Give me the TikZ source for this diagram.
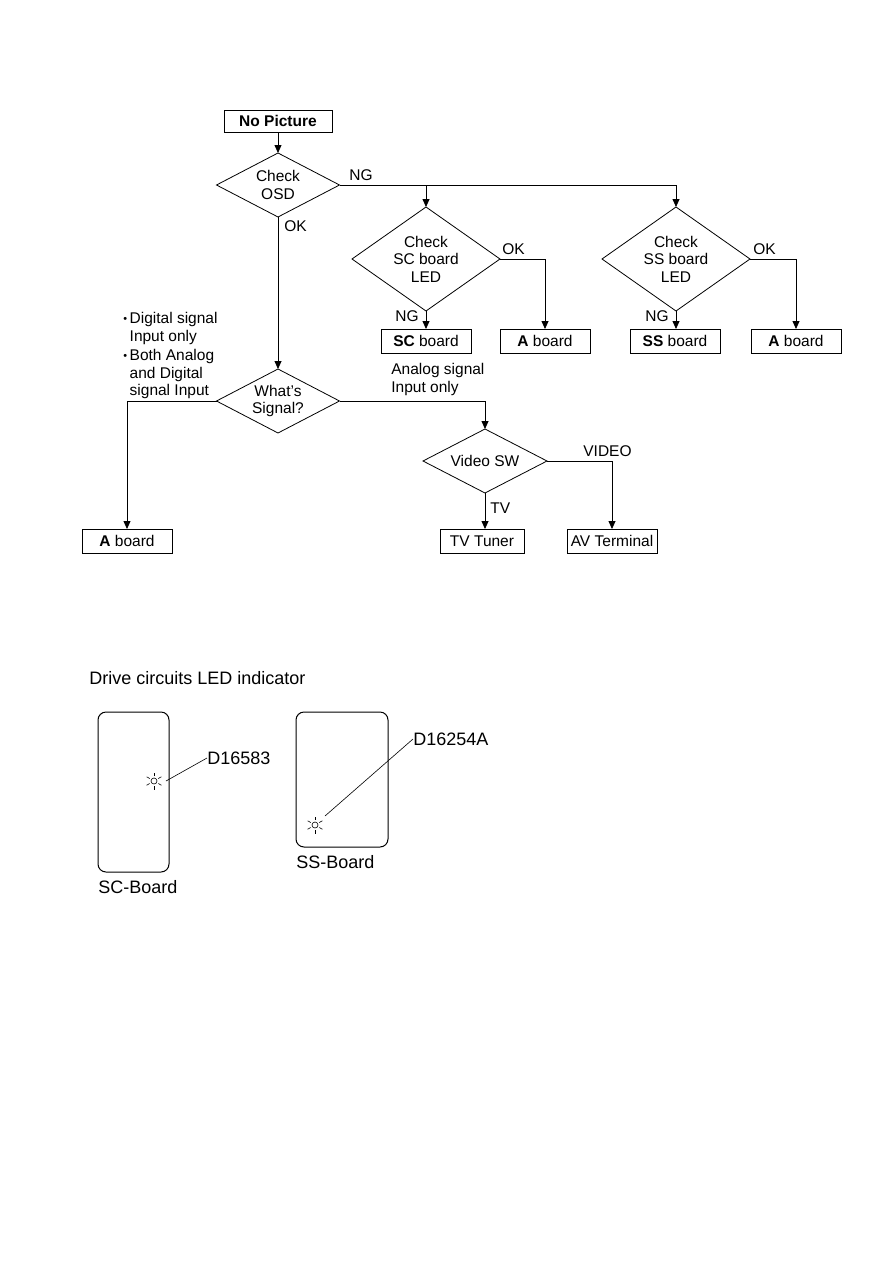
\documentclass[tikz,border=0pt]{standalone}
\usepackage{fontspec}
\setmainfont{Liberation Sans}
\usetikzlibrary{positioning, arrows.meta, shapes.geometric, calc}

\newcommand{\flowfont}{\fontsize{15.5}{17.5}\selectfont}
\newcommand{\ledfont}{\fontsize{18}{21}\selectfont}

\begin{document}
\begin{tikzpicture}[
        x=1pt, y=-1pt,
        line width=0.8pt,
        box/.style   = {draw, rectangle, minimum width=90pt, minimum height=24pt, inner sep=1pt, outer sep=0pt, font=\flowfont},
        dec/.style   = {draw, diamond, aspect=1.9, inner sep=0pt, outer sep=0pt, minimum width=123pt, minimum height=64pt, align=center, font=\flowfont},
        lbl/.style   = {inner sep=0pt, font=\flowfont, align=left},
        arrow/.style = {-{Triangle[length=8pt, width=7pt]}},
        board/.style = {draw, rectangle, rounded corners=8pt, line width=1pt},
        led/.style   = {draw, circle, minimum size=6pt, inner sep=0pt, line width=0.6pt},
    ]
        \useasboundingbox (0,0) rectangle (893,1263);

        %---- top of chart ----
        \node[box, minimum width=108pt, minimum height=22pt, font=\flowfont\bfseries] (start) at (278,121) {No Picture};
        \node[dec] (osd) at (278,185) {Check\\OSD};
        \node[dec, aspect=1.42, minimum width=148pt, minimum height=104pt] (sc) at (426,259) {Check\\SC board\\LED};
        \node[dec, aspect=1.42, minimum width=148pt, minimum height=104pt] (ss) at (676,259) {Check\\SS board\\LED};
        \node[box] (scb) at (426,341) {\textbf{SC} board};
        \node[box] (sca) at (545,341) {\textbf{A} board};
        \node[box] (ssb) at (675,341) {\textbf{SS} board};
        \node[box] (ssa) at (796,341) {\textbf{A} board};
        \draw[arrow] (start) -- (osd);
        \draw[arrow] (osd.east) -| (ss.north);
        \draw[arrow] (osd.east -| sc.north) -- (sc.north);
        \draw[arrow] (sc.south) -- (sc.south |- scb.north);
        \draw[arrow] (sc.east) -| (sca.north);
        \draw[arrow] (ss.south) -- (ss.south |- ssb.north);
        \draw[arrow] (ss.east) -| (ssa.north);
        \node[lbl, anchor=west] (ngosd) at (349,175) {NG};
        \node[lbl, anchor=west] (okosd) at (284,226) {OK};
        \node[lbl, anchor=west] (oksc) at (502,249) {OK};
        \node[lbl, anchor=west] (ngsc) at (395,316) {NG};
        \node[lbl, anchor=west] (okss) at (753,249) {OK};
        \node[lbl, anchor=west] (ngss) at (645,316) {NG};

        %---- signal branch ----
        \node[dec] (sig) at (278,401) {What's\\Signal?};
        \node[box] (aboard) at (127,541) {\textbf{A} board};
        \node[dec, aspect=1.94, minimum width=124pt] (vsw) at (485,461) {Video SW};
        \node[box, minimum width=84pt] (tuner) at (482,541) {TV Tuner};
        \node[box] (avt) at (612,541) {AV Terminal};
        \draw[arrow] (osd.south) -- (sig.north);
        \draw[arrow] (sig.west) -| (aboard.north);
        \draw[arrow] (sig.east) -| (vsw.north);
        \draw[arrow] (vsw.south) -- (vsw.south |- tuner.north);
        \draw[arrow] (vsw.east) -| (avt.north);
        \node[lbl, anchor=north west] (both) at (123,311) {%
            \begin{tabular}{@{}l@{\hspace{2.5pt}}l@{}}
                \raisebox{1pt}{\scalebox{0.7}{•}} & Digital signal\\
                & Input only\\[2pt]
                \raisebox{1pt}{\scalebox{0.7}{•}} & Both Analog\\
                & and Digital\\
                & signal Input
            \end{tabular}};
        \node[lbl, anchor=north west] (analog) at (391,363) {Analog signal\\Input only};
        \node[lbl, anchor=west] (video) at (583,451) {VIDEO};
        \node[lbl, anchor=west] (tv) at (490,508) {TV};

        %---- LED indicator ----
        \node[lbl, font=\ledfont, anchor=west] (title) at (89,678) {Drive circuits LED indicator};
        \node[board, minimum width=71pt, minimum height=160pt] (scbrd) at (133.5,792) {};
        \node[board, minimum width=92pt, minimum height=135pt] (ssbrd) at (342,779.5) {};
        \node[lbl, font=\ledfont, anchor=west] (scname) at (98,887) {SC-Board};
        \node[lbl, font=\ledfont, anchor=west] (ssname) at (296,862) {SS-Board};
        \node[led] (led1) at (154,781) {};
        \node[led] (led2) at (315,825) {};
        \foreach \l in {led1, led2}
            \foreach \a in {30, 90, 150, 210, 270, 330}
                \draw[line width=0.6pt] (\l.center) ++(\a:5) -- ++(\a:3.5);
        \node[lbl, font=\ledfont, anchor=west] (d1) at (207,758) {D16583};
        \node[lbl, font=\ledfont, anchor=west] (d2) at (413,739) {D16254A};
        \draw[line width=0.6pt] ([xshift=12pt]led1.center) -- (d1.west);
        \draw[line width=0.6pt] ([shift={(10pt,9pt)}]led2.center) -- (d2.west);
    \end{tikzpicture}
\end{document}
